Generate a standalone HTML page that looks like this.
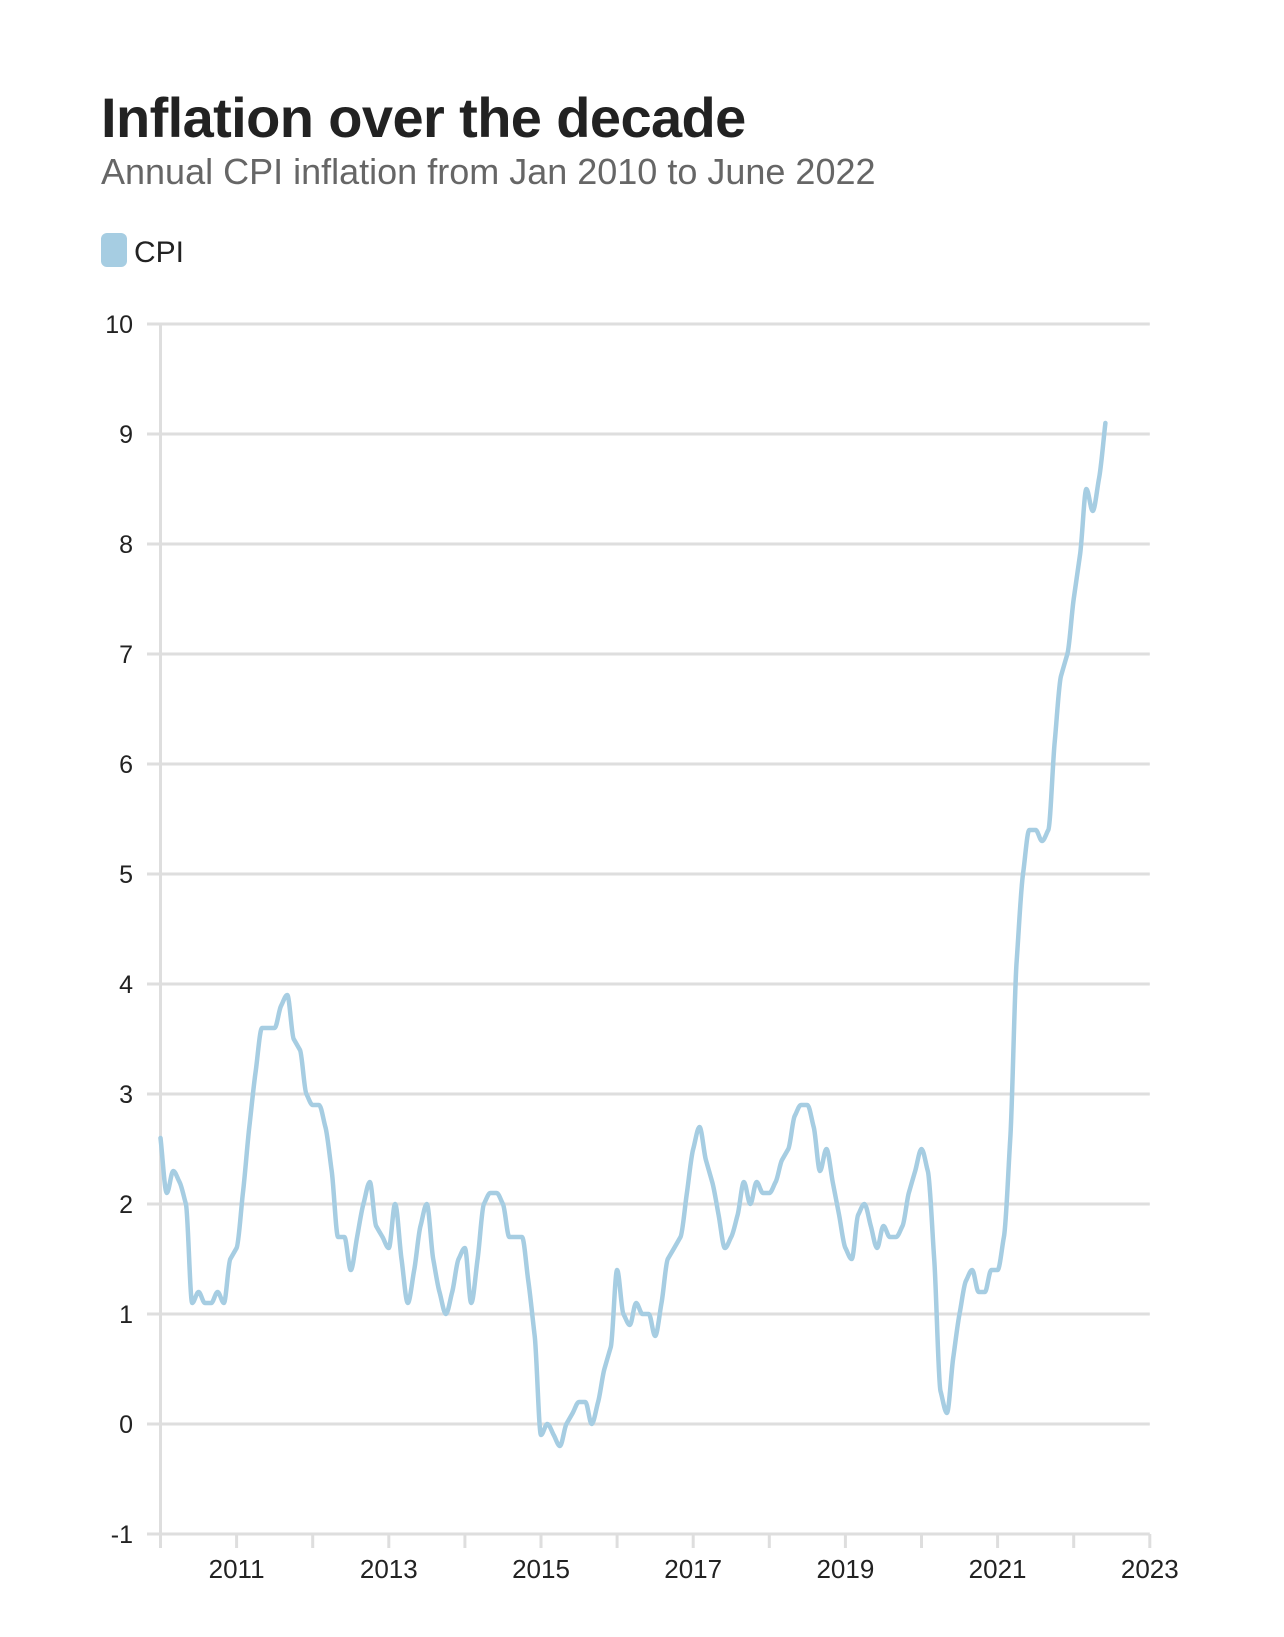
<!DOCTYPE html>
<html><head><meta charset="utf-8"><style>
body{margin:0;background:#fff;width:1284px;height:1632px;overflow:hidden;font-family:"Liberation Sans",sans-serif}
</style></head><body>
<svg width="1284" height="1632" xmlns="http://www.w3.org/2000/svg" font-family="Liberation Sans, sans-serif">
<text x="101" y="137" font-size="56" font-weight="bold" fill="#222" letter-spacing="-0.6">Inflation over the decade</text>
<text x="101" y="184" font-size="36" fill="#666">Annual CPI inflation from Jan 2010 to June 2022</text>
<rect x="101" y="233" width="26" height="34" rx="6" fill="#a6cde2"/>
<text x="134" y="262" font-size="30" fill="#222">CPI</text>
<g id="grid" stroke="#dedede" stroke-width="3"></g>
<g id="labels" font-size="25" fill="#222"></g>
<g id="xl" font-size="26" fill="#222"></g>
<path id="line" fill="none" stroke="#a6cde2" stroke-width="4.5" stroke-linejoin="round" stroke-linecap="round"/>
</svg>
<script>
var d=[2.6,2.1,2.3,2.2,2.0,1.1,1.2,1.1,1.1,1.2,1.1,1.5,1.6,2.1,2.7,3.2,3.6,3.6,3.6,3.8,3.9,3.5,3.4,3.0,2.9,2.9,2.7,2.3,1.7,1.7,1.4,1.7,2.0,2.2,1.8,1.7,1.6,2.0,1.5,1.1,1.4,1.8,2.0,1.5,1.2,1.0,1.2,1.5,1.6,1.1,1.5,2.0,2.1,2.1,2.0,1.7,1.7,1.7,1.3,0.8,-0.1,0.0,-0.1,-0.2,0.0,0.1,0.2,0.2,0.0,0.2,0.5,0.7,1.4,1.0,0.9,1.1,1.0,1.0,0.8,1.1,1.5,1.6,1.7,2.1,2.5,2.7,2.4,2.2,1.9,1.6,1.7,1.9,2.2,2.0,2.2,2.1,2.1,2.2,2.4,2.5,2.8,2.9,2.9,2.7,2.3,2.5,2.2,1.9,1.6,1.5,1.9,2.0,1.8,1.6,1.8,1.7,1.7,1.8,2.1,2.3,2.5,2.3,1.5,0.3,0.1,0.6,1.0,1.3,1.4,1.2,1.2,1.4,1.4,1.7,2.6,4.2,5.0,5.4,5.4,5.3,5.4,6.2,6.8,7.0,7.5,7.9,8.5,8.3,8.6,9.1];
var X0=160.5,YW=76.1,Y0=1424,U=110,XR=X0+13*YW;
function x(i){return X0+i*YW/12}function y(v){return Y0-U*v}
var ns="http://www.w3.org/2000/svg",g=document.getElementById('grid'),L=document.getElementById('labels'),XL=document.getElementById('xl');
function el(p,t,a,txt){var e=document.createElementNS(ns,t);for(var k in a)e.setAttribute(k,a[k]);if(txt!=null)e.textContent=txt;p.appendChild(e);}
for(var v=-1;v<=10;v++){el(g,'line',{x1:147,x2:XR,y1:y(v),y2:y(v)});el(L,'text',{x:133,y:y(v)+9,'text-anchor':'end'},String(v));}
el(g,'line',{x1:X0,x2:X0,y1:y(10),y2:y(-1)+13});
for(var k=0;k<=13;k++){var xx=X0+k*YW;el(g,'line',{x1:xx,x2:xx,y1:y(-1),y2:y(-1)+14});if(k%2==1)el(XL,'text',{x:xx,y:1578,'text-anchor':'middle'},String(2010+k));}
var n=d.length,px=[],py=[];for(var i=0;i<n;i++){px.push(x(i));py.push(y(d[i]));}
var h=px[1]-px[0],s=[],m=[];for(i=0;i<n-1;i++)s.push((py[i+1]-py[i])/h);
for(i=0;i<n;i++){if(i==0)m.push(s[0]);else if(i==n-1)m.push(s[n-2]);else{var a=s[i-1],b=s[i];m.push(a*b<=0?0:(Math.sign(a))*Math.min(Math.abs(a),Math.abs(b),0.5*Math.abs(a+b)));}}
var p='M'+px[0].toFixed(1)+','+py[0].toFixed(1);
for(i=0;i<n-1;i++){var dx=h/3;p+='C'+(px[i]+dx).toFixed(1)+','+(py[i]+m[i]*dx).toFixed(1)+' '+(px[i+1]-dx).toFixed(1)+','+(py[i+1]-m[i+1]*dx).toFixed(1)+' '+px[i+1].toFixed(1)+','+py[i+1].toFixed(1);}
document.getElementById('line').setAttribute('d',p);
</script>
</body></html>
